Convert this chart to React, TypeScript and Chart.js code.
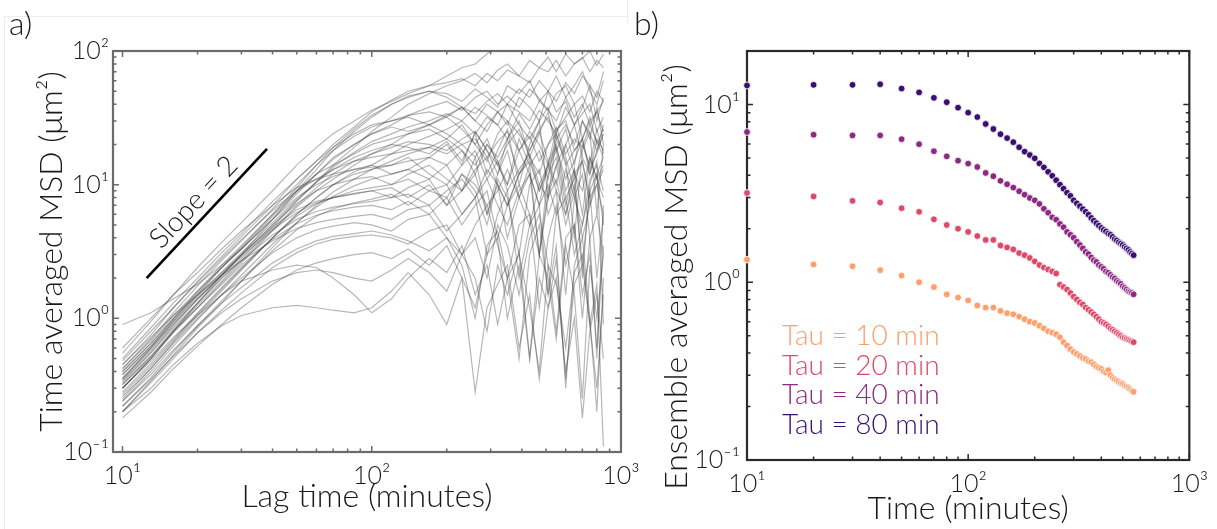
import React, { useEffect, useRef } from "react";
import { Chart, registerables } from "chart.js";

Chart.register(...registerables);

const FONT = "Lato, 'Open Sans', 'DejaVu Sans', sans-serif";

// ---------------- Panel a: time averaged MSD traces ----------------
const lagTimes = [10, 13, 16, 20, 25, 30, 40, 50, 60, 70, 85, 100, 120, 140, 170, 200, 230, 260, 290, 320, 350, 390, 430, 470, 510, 550, 600, 650, 700, 750, 800, 850];

const msdTraces: number[][] = [
  [0.55, 0.95, 1.5, 2.4, 3.7, 5.2, 9, 14, 19, 24, 30, 36, 42, 48, 55, 65, 75, 80, 95, 110, 105, 125, 140, 130, 150, 140, 160, 150, 170, 160, 180, 170],
  [0.45, 0.75, 1.2, 1.9, 2.9, 4.1, 7, 11, 15, 20, 27, 35, 43, 50, 55, 58, 62, 55, 68, 60, 72, 65, 58, 75, 70, 85, 65, 80, 90, 70, 85, 75],
  [0.35, 0.6, 0.95, 1.5, 2.4, 3.4, 6, 9.5, 14, 19, 26, 33, 40, 45, 50, 48, 42, 52, 45, 38, 55, 48, 60, 42, 50, 65, 45, 55, 70, 50, 40, 60],
  [0.3, 0.5, 0.8, 1.3, 2.1, 3, 5.5, 9, 13, 18, 25, 32, 40, 46, 50, 45, 38, 30, 40, 35, 28, 45, 38, 30, 50, 35, 42, 28, 38, 55, 30, 45],
  [0.5, 0.85, 1.3, 2, 3.1, 4.3, 7.5, 11, 15, 19, 24, 28, 30, 33, 35, 32, 38, 30, 25, 35, 40, 28, 22, 30, 38, 25, 32, 40, 22, 30, 35, 25],
  [0.9, 1.1, 1.4, 1.8, 2.5, 3.3, 5.5, 8.5, 12, 16, 20, 24, 27, 25, 28, 32, 26, 20, 28, 35, 30, 24, 18, 26, 32, 22, 28, 20, 30, 24, 18, 28],
  [0.4, 0.65, 1, 1.6, 2.5, 3.5, 6, 9, 12, 14, 17, 20, 22, 24, 26, 22, 28, 20, 15, 24, 30, 18, 25, 20, 14, 26, 30, 18, 22, 32, 20, 26],
  [0.3, 0.5, 0.8, 1.25, 1.9, 2.7, 4.6, 7, 9.5, 12, 15, 17, 19, 21, 20, 18, 22, 25, 18, 14, 20, 26, 16, 12, 20, 24, 14, 18, 22, 12, 18, 24],
  [0.25, 0.42, 0.66, 1.05, 1.6, 2.3, 4, 6, 8, 10, 12, 13, 15, 17, 19, 22, 18, 14, 20, 16, 22, 12, 18, 25, 15, 10, 20, 28, 16, 12, 22, 18],
  [0.6, 1, 1.5, 2.2, 3.3, 4.5, 7, 9.5, 11, 12, 13, 13.5, 14, 16, 12, 10, 14, 18, 11, 15, 9, 13, 17, 10, 8, 14, 20, 12, 9, 16, 11, 14],
  [0.35, 0.58, 0.9, 1.4, 2.1, 3, 5, 7.2, 9, 10, 11, 11.5, 10, 12, 14, 11, 9, 13, 16, 10, 7, 12, 15, 9, 13, 18, 8, 11, 15, 7, 12, 16],
  [0.28, 0.46, 0.7, 1.1, 1.7, 2.4, 4, 5.8, 7.2, 8, 9, 9.5, 10, 11, 9, 8, 12, 10, 7, 9, 13, 8, 5, 10, 14, 9, 6, 12, 15, 8, 10, 13],
  [0.4, 0.65, 1, 1.5, 2.2, 3, 4.8, 6.5, 7.5, 8, 8.5, 9, 8, 9.5, 11, 7, 9, 12, 6, 10, 4, 8, 12, 3, 9, 14, 6, 10, 2.5, 9, 12, 5],
  [0.22, 0.36, 0.56, 0.88, 1.35, 1.9, 3.2, 4.6, 5.8, 6.6, 7.3, 7.8, 8.5, 7, 9, 10, 6, 8, 11, 7, 5, 9, 12, 7, 10, 6, 13, 8, 5, 11, 14, 9],
  [0.32, 0.52, 0.8, 1.2, 1.8, 2.5, 3.9, 5.1, 5.9, 6.4, 6.8, 7, 6.5, 7.5, 6, 8, 5, 7, 9, 4, 7, 10, 6, 3, 8, 11, 5, 9, 4, 7, 10, 6],
  [0.45, 0.72, 1.05, 1.5, 2.1, 2.7, 3.8, 4.7, 5.2, 5.5, 5.8, 6, 5.5, 6.5, 7, 4.5, 6, 8, 3, 6, 9, 2, 5, 7, 1.5, 6, 8, 3, 5, 9, 2, 6],
  [0.26, 0.42, 0.65, 1, 1.5, 2, 3.1, 4, 4.6, 4.9, 5.2, 5, 4.5, 5.5, 6, 4, 3, 5, 7, 3.5, 2, 5, 6, 1.2, 4, 7, 2.5, 5, 1, 4, 6, 3],
  [0.2, 0.33, 0.5, 0.78, 1.15, 1.55, 2.4, 3.1, 3.6, 3.9, 4.1, 4.2, 4, 3.6, 4.5, 5, 3, 4, 2, 5, 3.5, 1.5, 4, 6, 2.5, 0.8, 4, 5, 1.5, 3, 0.6, 3.5],
  [0.18, 0.28, 0.42, 0.62, 0.9, 1.2, 1.8, 2.3, 2.6, 2.8, 3, 3.1, 2.8, 3.3, 2.5, 3.5, 2, 1.2, 3, 4, 1, 2.5, 0.5, 3, 2, 0.7, 3.5, 1.5, 0.25, 2.5, 1, 3],
  [0.2, 0.3, 0.45, 0.65, 0.88, 1.05, 1.2, 1.25, 1.2, 1.15, 1.1, 1.2, 1.6, 2.2, 1.5, 0.9, 2, 0.28, 1.2, 1.8, 2.5, 0.6, 1.5, 0.35, 1.2, 2, 0.4, 1, 0.18, 0.8, 1.5, 0.5],
  [0.3, 0.48, 0.72, 1.05, 1.5, 1.9, 2.3, 2.5, 2.4, 2.0, 1.5, 1.1, 1.4, 2, 2.8, 2.2, 3.5, 1.5, 2.5, 0.9, 2, 3, 1.2, 0.4, 2.5, 1.8, 0.6, 2.2, 3, 0.9, 0.3, 1.5],
  [0.38, 0.62, 0.95, 1.45, 2.2, 3.1, 5.2, 7.8, 10.5, 13, 16, 18, 20, 19, 17, 21, 15, 24, 12, 18, 26, 10, 20, 30, 8, 22, 15, 4, 18, 25, 6, 20],
  [0.42, 0.7, 1.1, 1.75, 2.7, 3.8, 6.6, 10, 14, 18, 23, 27, 30, 32, 28, 24, 20, 16, 22, 14, 10, 18, 12, 7, 15, 20, 9, 13, 6, 16, 11, 8],
  [0.2, 0.34, 0.53, 0.85, 1.3, 1.9, 3.4, 5.2, 7, 8.8, 11, 13, 14, 15, 16, 14, 18, 12, 20, 15, 10, 22, 14, 18, 11, 24, 16, 9, 20, 14, 26, 17],
  [0.33, 0.55, 0.85, 1.3, 2, 2.7, 4.2, 5.5, 6.3, 6.8, 7.2, 7.5, 8, 8.5, 7, 9, 11, 8, 13, 10, 7, 12, 16, 9, 14, 19, 11, 15, 22, 13, 17, 24],
  [0.3, 0.5, 0.78, 1.2, 1.85, 2.6, 4.5, 6.8, 9, 11, 14, 17, 20, 24, 28, 33, 38, 34, 42, 48, 40, 52, 45, 60, 50, 42, 58, 48, 65, 55, 45, 70],
  [0.24, 0.38, 0.58, 0.88, 1.3, 1.7, 2.6, 3.3, 3.8, 4.1, 4.3, 4.5, 4.2, 3.8, 3.2, 4, 2.5, 1, 3.5, 4.5, 2, 0.5, 3, 5, 1.5, 3.5, 0.3, 2.5, 4, 1, 0.2, 2],
  [0.27, 0.44, 0.68, 1.08, 1.65, 2.35, 4, 6, 8, 10, 12.5, 14, 17, 20, 23, 26, 30, 24, 32, 28, 22, 34, 26, 36, 30, 24, 38, 28, 34, 40, 25, 32],
  [0.36, 0.6, 0.92, 1.4, 2.1, 2.9, 4.6, 6.2, 7.3, 8, 8.6, 9, 9.5, 8, 10, 7, 12, 9, 5, 11, 8, 3, 10, 13, 6, 9, 1.5, 8, 12, 4, 0.5, 7],
  [0.48, 0.8, 1.2, 1.85, 2.8, 3.9, 6.4, 9, 11, 13, 15, 16, 17, 18, 19, 17, 20, 22, 16, 21, 25, 18, 23, 15, 20, 27, 17, 22, 19, 28, 21, 16],
  [0.32, 0.52, 0.82, 1.3, 2, 2.8, 4.8, 7.5, 10.5, 14, 19, 25, 32, 40, 48, 55, 60, 68, 58, 72, 80, 65, 85, 75, 90, 70, 95, 80, 88, 100, 78, 95],
  [0.42, 0.68, 1.05, 1.6, 2.4, 3.3, 5.5, 8, 10, 11.5, 13, 14, 12, 13, 16, 20, 14, 25, 18, 12, 22, 30, 16, 24, 35, 18, 26, 14, 30, 22, 38, 20],
  [0.22, 0.35, 0.52, 0.78, 1.1, 1.4, 1.9, 2.2, 2.3, 2.2, 2.0, 1.9, 2.3, 2.8, 2.2, 1.6, 3, 2, 0.8, 2.5, 1.5, 3.2, 0.5, 2, 1.2, 2.8, 0.35, 1.8, 2.5, 0.9, 1.8, 0.11],
  [0.34, 0.56, 0.88, 1.38, 2.1, 2.95, 5, 7.6, 10.4, 13.5, 17.5, 21, 24, 27, 30, 34, 30, 38, 33, 28, 40, 35, 30, 42, 36, 30, 45, 32, 40, 28, 35, 42],
  [0.24, 0.4, 0.62, 0.98, 1.5, 2.1, 3.6, 5.2, 6.8, 8.2, 9.8, 11, 12, 13, 11, 14, 9, 16, 6, 12, 18, 8, 14, 3, 12, 16, 7, 13, 2, 10, 15, 0.9],
  [0.38, 0.62, 0.98, 1.55, 2.4, 3.3, 5.8, 8.8, 12, 15.5, 20, 24, 28, 33, 38, 42, 36, 45, 50, 40, 46, 38, 52, 44, 36, 48, 55, 40, 46, 35, 50, 42],
];

const slopeLine = [
  { x: 12.5, y: 2.0 },
  { x: 38, y: 18.5 },
];
const slopeLabel = { x: 19.3, y: 7.4, text: "Slope = 2" };

const xTicksA = [10, 100, 1000];
const yTicksA = [0.1, 1, 10, 100];

// ---------------- Panel b: ensemble averaged MSD ----------------
const timesB = [10, 20, 30, 40, 50, 60, 70, 80, 90, 100, 110, 120, 130, 140, 150, 160, 170, 180, 190, 200, 210, 220, 230, 240, 250, 260, 270, 280, 290, 300, 310, 320, 330, 340, 350, 360, 370, 380, 390, 400, 410, 420, 430, 440, 450, 460, 470, 480, 490, 500, 510, 520, 530, 540, 550, 560];

const tau10 = [1.34, 1.26, 1.23, 1.17, 1.09, 1.0, 0.94, 0.855, 0.82, 0.79, 0.74, 0.72, 0.72, 0.69, 0.67, 0.66, 0.64, 0.62, 0.60, 0.59, 0.57, 0.55, 0.53, 0.52, 0.51, 0.49, 0.46, 0.44, 0.42, 0.405, 0.395, 0.385, 0.375, 0.37, 0.36, 0.355, 0.345, 0.335, 0.33, 0.325, 0.315, 0.31, 0.32, 0.30, 0.29, 0.285, 0.28, 0.275, 0.27, 0.268, 0.262, 0.258, 0.255, 0.25, 0.245, 0.242];
const tau20 = [3.18, 3.04, 2.87, 2.81, 2.61, 2.49, 2.26, 2.10, 2.0, 1.92, 1.82, 1.73, 1.73, 1.61, 1.57, 1.53, 1.46, 1.42, 1.37, 1.31, 1.25, 1.21, 1.18, 1.15, 1.12, 0.97, 0.94, 0.91, 0.87, 0.83, 0.80, 0.77, 0.75, 0.72, 0.70, 0.68, 0.66, 0.64, 0.62, 0.60, 0.59, 0.58, 0.565, 0.55, 0.54, 0.53, 0.52, 0.51, 0.50, 0.49, 0.485, 0.48, 0.475, 0.47, 0.465, 0.46];
const tau40 = [7.0, 6.76, 6.7, 6.7, 6.38, 5.98, 5.46, 5.11, 4.83, 4.65, 4.45, 4.12, 3.95, 3.72, 3.56, 3.41, 3.25, 3.11, 2.98, 2.89, 2.76, 2.59, 2.46, 2.32, 2.25, 2.13, 2.04, 1.92, 1.85, 1.78, 1.69, 1.62, 1.55, 1.48, 1.44, 1.38, 1.33, 1.30, 1.25, 1.22, 1.19, 1.15, 1.13, 1.10, 1.07, 1.05, 1.02, 1.00, 0.98, 0.95, 0.93, 0.91, 0.89, 0.88, 0.87, 0.855];
const tau80 = [12.8, 12.9, 12.9, 13.0, 12.3, 11.7, 10.9, 10.3, 9.6, 9.0, 8.5, 7.77, 7.28, 6.81, 6.47, 6.14, 5.75, 5.43, 5.20, 4.98, 4.66, 4.43, 4.18, 3.97, 3.75, 3.54, 3.36, 3.19, 3.06, 2.89, 2.78, 2.68, 2.58, 2.49, 2.40, 2.30, 2.22, 2.15, 2.08, 2.02, 1.97, 1.93, 1.88, 1.85, 1.80, 1.75, 1.72, 1.68, 1.65, 1.62, 1.58, 1.55, 1.52, 1.48, 1.45, 1.42];

const seriesNamesB = ["Tau = 10 min", "Tau = 20 min", "Tau = 40 min", "Tau = 80 min"];
const seriesColorsB = ["#fe9f6d", "#de4968", "#8c2981", "#3b0f70"];
const seriesValuesB = [tau10, tau20, tau40, tau80];

const xTicksB = [10, 100, 1000];
const yTicksB = [0.1, 1, 10];

const tickLabels: Record<string, string> = {
  "0.1": "10\u207B\u00B9",
  "1": "10\u2070",
  "10": "10\u00B9",
  "100": "10\u00B2",
  "1000": "10\u00B3",
};

// ---------------- helpers / plugins ----------------
function logMarks(min: number, max: number): [number, boolean][] {
  const out: [number, boolean][] = [];
  for (let e = Math.floor(Math.log10(min)); e <= Math.ceil(Math.log10(max)); e++) {
    for (let k = 1; k <= 9; k++) {
      const v = k * Math.pow(10, e);
      if (v >= min * 0.9999 && v <= max * 1.0001) out.push([v, k === 1]);
    }
  }
  return out;
}

const framePlugin = {
  id: "frameTicks",
  beforeDatasetsDraw(chart: any, _args: any, opts: any) {
    const { ctx, chartArea: a } = chart;
    const xs = chart.scales.x;
    const ys = chart.scales.y;
    ctx.save();
    ctx.strokeStyle = opts.color;
    ctx.lineWidth = opts.tickWidth;
    ctx.beginPath();
    for (const [v, major] of logMarks(xs.min, xs.max)) {
      const p = xs.getPixelForValue(v);
      const len = major ? opts.major : opts.minor;
      ctx.moveTo(p, a.bottom);
      ctx.lineTo(p, a.bottom - len);
      ctx.moveTo(p, a.top);
      ctx.lineTo(p, a.top + len);
    }
    for (const [v, major] of logMarks(ys.min, ys.max)) {
      const p = ys.getPixelForValue(v);
      const len = major ? opts.major : opts.minor;
      ctx.moveTo(a.left, p);
      ctx.lineTo(a.left + len, p);
      ctx.moveTo(a.right, p);
      ctx.lineTo(a.right - len, p);
    }
    ctx.stroke();
    ctx.lineWidth = opts.frameWidth;
    ctx.strokeRect(a.left, a.top, a.right - a.left, a.bottom - a.top);
    ctx.restore();
  },
};

const panelAExtras = {
  id: "panelAExtras",
  afterDatasetsDraw(chart: any) {
    const { ctx } = chart;
    const xs = chart.scales.x;
    const ys = chart.scales.y;
    ctx.save();
    ctx.fillStyle = "#1a1a1a";
    ctx.font = `300 32px ${FONT}`;
    ctx.textAlign = "left";
    ctx.textBaseline = "alphabetic";
    ctx.fillText("a)", 9, 35);
    const x0 = xs.getPixelForValue(slopeLine[0].x);
    const y0 = ys.getPixelForValue(slopeLine[0].y);
    const x1 = xs.getPixelForValue(slopeLine[1].x);
    const y1 = ys.getPixelForValue(slopeLine[1].y);
    const ang = Math.atan2(y1 - y0, x1 - x0);
    ctx.translate(xs.getPixelForValue(slopeLabel.x), ys.getPixelForValue(slopeLabel.y));
    ctx.rotate(ang);
    ctx.font = `300 28px ${FONT}`;
    ctx.textAlign = "center";
    ctx.textBaseline = "middle";
    ctx.fillText(slopeLabel.text, 0, 0);
    ctx.restore();
  },
};

const panelBExtras = {
  id: "panelBExtras",
  afterDatasetsDraw(chart: any) {
    const { ctx, chartArea: a } = chart;
    ctx.save();
    ctx.fillStyle = "#1a1a1a";
    ctx.font = `300 32px ${FONT}`;
    ctx.textAlign = "left";
    ctx.textBaseline = "alphabetic";
    ctx.fillText("b)", 9, 35);
    // y axis title
    ctx.save();
    ctx.translate(52, 277);
    ctx.rotate(-Math.PI / 2);
    ctx.textAlign = "center";
    ctx.textBaseline = "middle";
    ctx.font = `300 32px ${FONT}`;
    ctx.fillText("Ensemble averaged MSD (\u03BCm\u00B2)", 0, 0);
    ctx.restore();
    // legend
    ctx.font = `300 28px ${FONT}`;
    ctx.textAlign = "left";
    ctx.textBaseline = "middle";
    seriesNamesB.forEach((name, i) => {
      ctx.fillStyle = seriesColorsB[i];
      ctx.fillText(name, a.left + 35, a.top + 285 + i * 29.5);
    });
    ctx.restore();
  },
};

function axisCommon(ticks: number[], fontSize: number, padding: number) {
  return {
    type: "logarithmic" as const,
    grid: { display: false, drawTicks: false },
    border: { display: false },
    afterBuildTicks: (s: any) => {
      s.ticks = ticks.map((v) => ({ value: v }));
    },
    ticks: {
      autoSkip: false,
      maxRotation: 0,
      minRotation: 0,
      padding,
      color: "#1a1a1a",
      font: { family: FONT, size: fontSize, weight: "300" },
      callback: (v: any) => tickLabels[String(v)] ?? "",
    },
  };
}

export default function App() {
  const refA = useRef<HTMLCanvasElement>(null);
  const refB = useRef<HTMLCanvasElement>(null);

  useEffect(() => {
    const traceSets = msdTraces.map((tr) => ({
      data: lagTimes.map((t, i) => ({ x: t, y: tr[i] })),
      borderColor: "rgba(55,55,55,0.36)",
      borderWidth: 1.2,
      pointRadius: 0,
      tension: 0,
      fill: false,
    }));
    const chartA = new Chart(refA.current!, {
      type: "line",
      data: {
        datasets: [
          ...traceSets,
          {
            data: slopeLine,
            borderColor: "#000",
            borderWidth: 2.6,
            pointRadius: 0,
            fill: false,
          },
        ],
      },
      options: {
        animation: false,
        responsive: false,
        maintainAspectRatio: false,
        layout: { padding: { top: 51, right: 39, bottom: 0, left: 0 } },
        plugins: {
          legend: { display: false },
          tooltip: { enabled: false },
          frameTicks: { color: "#6b6b6b", tickWidth: 1.5, frameWidth: 2.2, major: 6, minor: 3.5 },
        } as any,
        scales: {
          x: {
            ...axisCommon(xTicksA, 25, 9),
            min: 9.16,
            max: 1000,
            afterFit: (s: any) => {
              s.height = 77;
            },
            title: {
              display: true,
              text: "Lag time (minutes)",
              color: "#1a1a1a",
              font: { family: FONT, size: 32, weight: "300" },
              padding: { top: 0, bottom: 13 },
            },
          },
          y: {
            ...axisCommon(yTicksA, 25, 4),
            min: 0.1,
            max: 100,
            afterFit: (s: any) => {
              s.width = 113;
            },
            title: {
              display: true,
              text: "Time averaged MSD (\u03BCm\u00B2)",
              color: "#1a1a1a",
              font: { family: FONT, size: 32, weight: "300" },
              padding: { top: 32, bottom: 0 },
            },
          },
        } as any,
      },
      plugins: [framePlugin, panelAExtras],
    } as any);

    const chartB = new Chart(refB.current!, {
      type: "scatter",
      data: {
        datasets: seriesValuesB.map((vals, i) => ({
          label: seriesNamesB[i],
          data: timesB.map((t, j) => ({ x: t, y: vals[j] })),
          backgroundColor: seriesColorsB[i],
          borderColor: "#ffffff",
          borderWidth: 0.8,
          pointRadius: 3.4,
          clip: false,
        })),
      },
      options: {
        animation: false,
        responsive: false,
        maintainAspectRatio: false,
        layout: { padding: { top: 51, right: 17, bottom: 0, left: 0 } },
        plugins: {
          legend: { display: false },
          tooltip: { enabled: false },
          frameTicks: { color: "#2a2a2a", tickWidth: 1.5, frameWidth: 2.2, major: 6, minor: 3.5 },
        } as any,
        scales: {
          x: {
            ...axisCommon(xTicksB, 25, 9),
            min: 10,
            max: 1000,
            afterFit: (s: any) => {
              s.height = 69;
            },
            title: {
              display: true,
              text: "Time (minutes)",
              color: "#1a1a1a",
              font: { family: FONT, size: 32, weight: "300" },
              padding: { top: 0, bottom: 1 },
            },
          },
          y: {
            ...axisCommon(yTicksB, 25, 7),
            min: 0.1,
            max: 20,
            afterFit: (s: any) => {
              s.width = 122;
            },
          },
        } as any,
      },
      plugins: [framePlugin, panelBExtras],
    } as any);

    return () => {
      chartA.destroy();
      chartB.destroy();
    };
  }, []);

  return (
    <div
      style={{
        position: "fixed",
        left: 0,
        top: 0,
        width: 1217,
        height: 529,
        background: "#fff",
        overflow: "hidden",
      }}
    >
      <div
        style={{
          position: "absolute",
          left: 4,
          top: 16,
          width: 624,
          height: 520,
          borderTop: "1px solid #ededed",
          borderLeft: "1px solid #ededed",
        }}
      />
      <div
        style={{
          position: "absolute",
          left: 627,
          top: 0,
          width: 0,
          height: 24,
          borderLeft: "1px solid #ededed",
        }}
      />
      <canvas
        ref={refA}
        width={660}
        height={529}
        style={{ position: "absolute", left: 0, top: 0, width: 660, height: 529 }}
      />
      <canvas
        ref={refB}
        width={592}
        height={529}
        style={{ position: "absolute", left: 625, top: 0, width: 592, height: 529 }}
      />
    </div>
  );
}
